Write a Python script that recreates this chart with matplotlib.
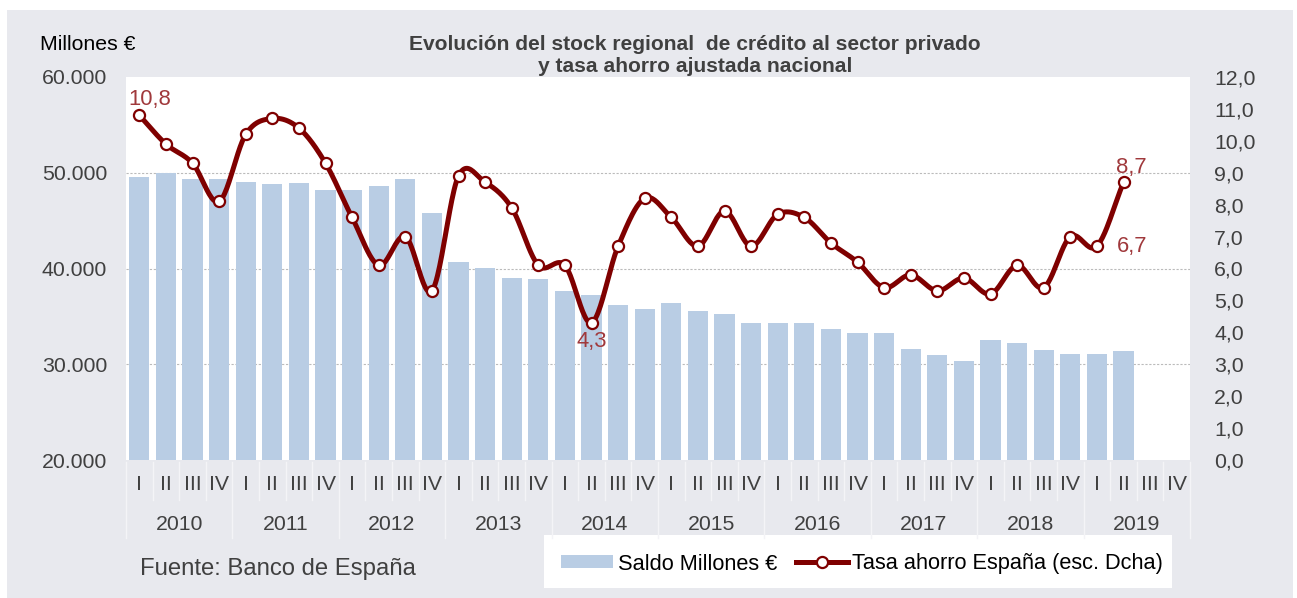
import numpy as np
import matplotlib
matplotlib.use("Agg")
import matplotlib.pyplot as plt
from matplotlib.patches import Rectangle, Patch
from matplotlib.lines import Line2D
import matplotlib.transforms as mtransforms

plt.rcParams['font.family'] = ['Liberation Sans', 'DejaVu Sans']

# ---------------- data ----------------
years = ['2010', '2011', '2012', '2013', '2014', '2015', '2016', '2017', '2018', '2019']
quarters = ['I', 'II', 'III', 'IV']

saldo = [49600, 49970, 49380, 49340, 49030, 48780, 48890, 48150,
         48230, 48650, 49380, 45800, 40660, 40100, 38960, 38890,
         37600, 37190, 36220, 35800, 36420, 35550, 35210, 34340,
         34300, 34340, 33710, 33230, 33260, 31630, 30940, 30310,
         32500, 32190, 31490, 31040, 31040, 31430]

tasa = [10.8, 9.9, 9.3, 8.1, 10.2, 10.7, 10.4, 9.3,
        7.6, 6.1, 7.0, 5.3, 8.9, 8.7, 7.9, 6.1,
        6.1, 4.3, 6.7, 8.2, 7.6, 6.7, 7.8, 6.7,
        7.7, 7.6, 6.8, 6.2, 5.4, 5.8, 5.3, 5.7,
        5.2, 6.1, 5.4, 7.0, 6.7, 8.7]

left_ticks = [20000, 30000, 40000, 50000, 60000]
left_ticklabels = ['20.000', '30.000', '40.000', '50.000', '60.000']
right_ticks = [0, 1, 2, 3, 4, 5, 6, 7, 8, 9, 10, 11, 12]

# ---------------- styles ----------------
W, H = 1297, 598
BG = '#E8E9EE'
BAR = '#B9CDE4'
LINE = '#7F0000'
LBL = '#A0393C'
TXT = '#404040'
FS = 15.3

fig = plt.figure(figsize=(W / 100, H / 100), dpi=100)
fig.patch.set_facecolor('white')
fig.add_artist(Rectangle((7 / W, 0), 1286 / W, 588 / H, transform=fig.transFigure,
                         facecolor=BG, edgecolor='none', zorder=-10))

ax_l, ax_r, ax_t, ax_b = 126, 1190, 77, 460
ax = fig.add_axes([ax_l / W, 1 - ax_b / H, (ax_r - ax_l) / W, (ax_b - ax_t) / H])
ax.set_facecolor('white')
for s in ax.spines.values():
    s.set_visible(False)

n_slots = len(years) * len(quarters)
x_bar = np.arange(len(saldo))
ax.bar(x_bar, saldo, width=0.76, color=BAR, zorder=2)
ax.set_xlim(-0.5, n_slots - 0.5)
ax.set_ylim(20000, 60000)
ax.set_yticks(left_ticks)
ax.set_yticklabels(left_ticklabels)
ax.tick_params(axis='y', length=0, labelsize=FS, labelcolor=TXT, pad=13.5)
ax.set_xticks([])
for v in [30000, 40000, 50000]:
    ax.axhline(v, color='#BBBBBB', lw=0.8, ls=(0, (2, 1.5)), zorder=1)

ax2 = ax.twinx()
for s in ax2.spines.values():
    s.set_visible(False)
ax2.set_ylim(0, 12)
ax2.set_yticks(right_ticks)
ax2.set_yticklabels([f'{v:.1f}'.replace('.', ',') for v in right_ticks])
ax2.tick_params(axis='y', length=0, labelsize=FS, labelcolor=TXT, pad=17.5)

# smoothed line (Catmull-Rom, as Excel smoothing)
xt = np.arange(len(tasa), dtype=float)
yt = np.array(tasa, dtype=float)
px = np.concatenate([[2 * xt[0] - xt[1]], xt, [2 * xt[-1] - xt[-2]]])
py = np.concatenate([[2 * yt[0] - yt[1]], yt, [2 * yt[-1] - yt[-2]]])
sx, sy = [], []
tt = np.linspace(0, 1, 25)
for i in range(1, len(px) - 2):
    for arr, out in ((px, sx), (py, sy)):
        p0, p1, p2, p3 = arr[i - 1], arr[i], arr[i + 1], arr[i + 2]
        seg = 0.5 * ((2 * p1) + (-p0 + p2) * tt + (2 * p0 - 5 * p1 + 4 * p2 - p3) * tt ** 2
                     + (-p0 + 3 * p1 - 3 * p2 + p3) * tt ** 3)
        out.extend(seg if i == 1 else seg[1:])
ax2.plot(sx, sy, color=LINE, lw=3.6, zorder=3, solid_capstyle='round')
ax2.plot(xt, yt, ls='none', marker='o', ms=8, mfc='white', mec=LINE, mew=1.6, zorder=4)

def lab(i, txt, dx, dy, ha='center'):
    ax2.annotate(txt, (xt[i], yt[i]), xytext=(dx, dy), textcoords='offset pixels',
                 ha=ha, va='center', color=LBL, fontsize=15.8, zorder=5)

lab(0, '10,8', 11, 16)
lab(17, '4,3', 0, -19)
lab(37, '8,7', 8, 15)
lab(36, '6,7', 20, 0, ha='left')

# category axis
trans = mtransforms.blended_transform_factory(ax.transData, ax.transAxes)
def ay(py_):
    return (ax_b - py_) / (ax_b - ax_t)
for k in range(n_slots + 1):
    xk = k - 0.5
    ybot = 538 if k % 4 == 0 else 500
    ax.add_line(Line2D([xk, xk], [ay(462), ay(ybot)], transform=trans, color='#F4F4F7',
                       lw=1.0, clip_on=False))
for k in range(n_slots):
    ax.text(k, ay(485), quarters[k % 4], transform=trans, ha='center', va='center',
            fontsize=FS, color=TXT)
for j, yr in enumerate(years):
    ax.text(4 * j + 1.5, ay(525), yr, transform=trans, ha='center', va='center',
            fontsize=FS, color=TXT)

# texts
fig.text(40 / W, 1 - 44 / H, 'Millones €', ha='left', va='center', fontsize=15.3, color='black')
fig.text(695 / W, 1 - 44 / H, 'Evolución del stock regional  de crédito al sector privado',
         ha='center', va='center', fontsize=15.1, fontweight='bold', color=TXT)
fig.text(695 / W, 1 - 66 / H, 'y tasa ahorro ajustada nacional',
         ha='center', va='center', fontsize=15.1, fontweight='bold', color=TXT)
fig.text(140 / W, 1 - 569 / H, 'Fuente: Banco de España', ha='left', va='center',
         fontsize=17.2, color=TXT)

# legend
fig.add_artist(Rectangle((544 / W, 10 / H), 628 / W, 53 / H, transform=fig.transFigure,
                         facecolor='white', edgecolor='none', zorder=-5))
handles = [Patch(facecolor=BAR, edgecolor='none', label='Saldo Millones €'),
           Line2D([], [], color=LINE, lw=3.6, marker='o', ms=8, mfc='white', mec=LINE,
                  mew=1.6, label='Tasa ahorro España (esc. Dcha)')]
leg = fig.legend(handles=handles, loc='center left', bbox_to_anchor=(561 / W, 1 - 564 / H),
                 ncol=2, frameon=False, fontsize=15.7, handlelength=2.4, handleheight=0.55,
                 handletextpad=0.2, columnspacing=0.85, borderpad=0, borderaxespad=0)
for t in leg.get_texts():
    t.set_color('black')

fig.savefig('out.png', dpi=100, facecolor=fig.get_facecolor())
